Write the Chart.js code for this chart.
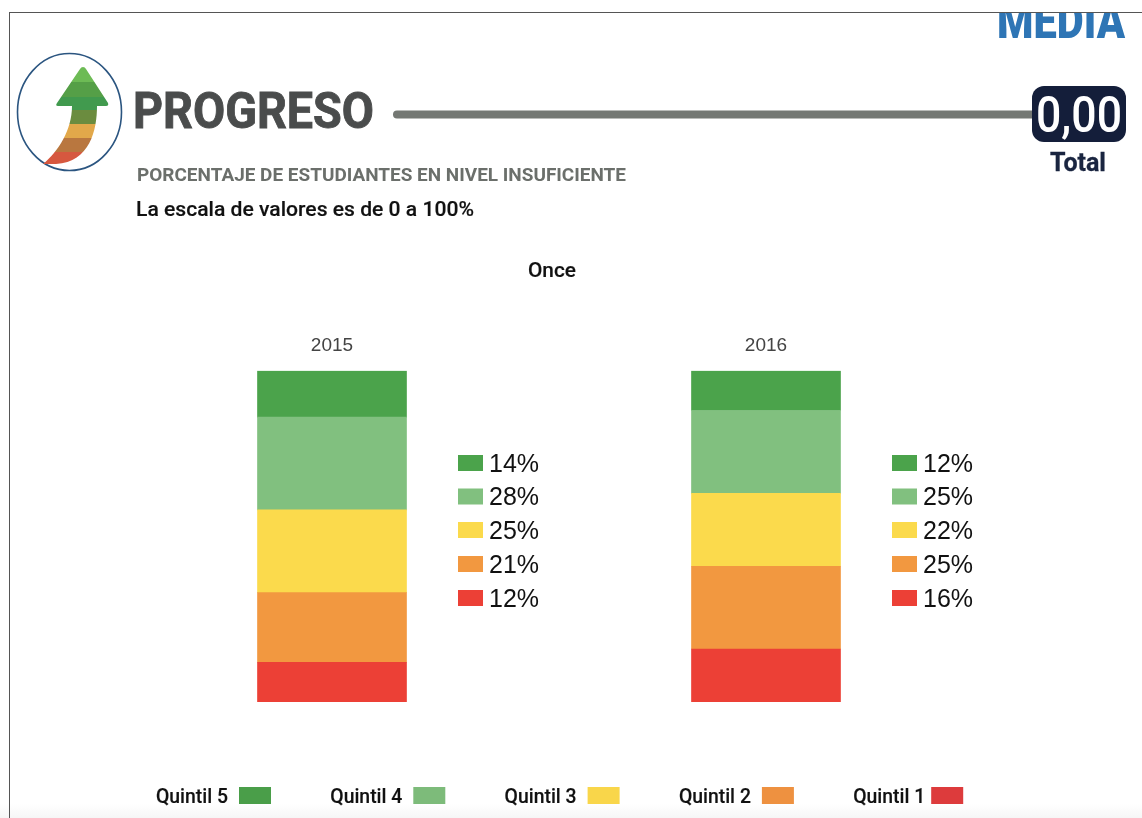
<!DOCTYPE html>
<html lang="es">
<head>
<meta charset="utf-8">
<title>Progreso</title>
<script src="https://cdn.jsdelivr.net/npm/chart.js@4"></script>
<style>
html,body{margin:0;padding:0;background:#fff;width:1142px;height:818px;overflow:hidden}
#wrap{position:relative;width:1142px;height:818px;background:#fff}
#frame-top{position:absolute;left:9px;top:12px;right:0;height:1px;background:#555}
#frame-left{position:absolute;left:9px;top:12px;bottom:0;width:1px;background:#555}
#fade{position:absolute;left:0;right:0;bottom:0;height:14px;background:linear-gradient(#fff,#f6f6f6)}
#head,#chart{position:absolute;left:0;top:0;filter:blur(.45px)}
</style>
</head>
<body>
<div id="wrap">
<div id="fade"></div>
<div id="frame-top"></div>
<div id="frame-left"></div>
<svg id="head" width="1142" height="818" xmlns="http://www.w3.org/2000/svg" font-family="Roboto">
  <defs>
    <clipPath id="below"><rect x="0" y="13" width="1142" height="805"/></clipPath>
    <clipPath id="arrow"><path d="M83,67 Q85,67 86,69 L108,103 Q109,106 106,106 L97,106 C97,130 90,162 56,164 L43,164 C58,152 72,130 72,106 L58,106 Q55,106 57,103 L80,69 Q81,67 83,67 Z"/></clipPath>
  </defs>
  <ellipse cx="69.5" cy="112" rx="52" ry="58.5" fill="none" stroke="#2B5580" stroke-width="1.6"/>
  <g clip-path="url(#arrow)">
    <rect x="40" y="66" width="72" height="16" fill="#6DBB55"/>
    <rect x="40" y="82" width="72" height="15" fill="#559F47"/>
    <rect x="40" y="97" width="72" height="13" fill="#419A4E"/>
    <rect x="40" y="110" width="72" height="14" fill="#6B8C3F"/>
    <rect x="40" y="124" width="72" height="14" fill="#E2A84A"/>
    <rect x="40" y="138" width="72" height="14" fill="#B9773F"/>
    <rect x="40" y="152" width="72" height="13" fill="#D6583F"/>
  </g>
  <text x="133" y="128" font-size="50" font-weight="700" fill="#4A4C4C" stroke="#4A4C4C" stroke-width=".9" textLength="241" lengthAdjust="spacingAndGlyphs">PROGRESO</text>
  <line x1="397" y1="114.500" x2="1036" y2="114.500" stroke="#747873" stroke-width="8" stroke-linecap="round"/>
  <rect x="1032" y="86" width="94" height="56" rx="12" fill="#141E3A"/>
  <text x="1036" y="132" font-size="50" font-weight="500" fill="#fff" textLength="86" lengthAdjust="spacingAndGlyphs">0,00</text>
  <text x="1050" y="171" font-size="26" font-weight="700" fill="#1A2540" stroke="#1A2540" stroke-width=".3" textLength="56" lengthAdjust="spacingAndGlyphs">Total</text>
  <g clip-path="url(#below)">
    <text x="997" y="38" font-size="50" font-weight="900" fill="#2E75B5" textLength="128" lengthAdjust="spacingAndGlyphs">MEDIA</text>
  </g>
  <text x="137" y="181" font-size="19" font-weight="700" fill="#6B6F6B" textLength="489" lengthAdjust="spacingAndGlyphs">PORCENTAJE DE ESTUDIANTES EN NIVEL INSUFICIENTE</text>
  <text x="136" y="216" font-size="20" font-weight="500" fill="#111" stroke="#111" stroke-width=".15" textLength="338" lengthAdjust="spacingAndGlyphs">La escala de valores es de 0 a 100%</text>
  <text id="chart-title" x="528" y="277" font-size="21" font-weight="500" fill="#111" stroke="#111" stroke-width=".15" textLength="48" lengthAdjust="spacingAndGlyphs"></text>
  <g id="legend"></g>
</svg>
<canvas id="chart" width="1142" height="818"></canvas>
</div>
<script>
const years = ["2015", "2016"];
const quintiles = ["Quintil 1", "Quintil 2", "Quintil 3", "Quintil 4", "Quintil 5"];
const quintil1 = [12, 16];
const quintil2 = [21, 25];
const quintil3 = [25, 22];
const quintil4 = [28, 25];
const quintil5 = [14, 12];
const barColors = ["#EC4036", "#F29840", "#FBDA4C", "#81C07F", "#4BA34B"];
const legendColors = ["#DD3B3C", "#EE9140", "#F9D64A", "#7DBB7A", "#4A9E49"];
const title = "Once";

const seriesValues = [quintil1, quintil2, quintil3, quintil4, quintil5];

document.getElementById("chart-title").textContent = title;

/* bottom legend, Quintil 5 first, label left of its swatch */
const NS = "http://www.w3.org/2000/svg";
const legendGroup = document.getElementById("legend");
[4, 3, 2, 1, 0].forEach((q, i) => {
  const x0 = 156 + i * 174.3;
  const t = document.createElementNS(NS, "text");
  t.setAttribute("x", x0);
  t.setAttribute("y", 803);
  t.setAttribute("font-size", "20");
  t.setAttribute("font-weight", "500");
  t.setAttribute("fill", "#111");
  t.setAttribute("stroke", "#111");
  t.setAttribute("stroke-width", ".15");
  t.setAttribute("textLength", "72");
  t.setAttribute("lengthAdjust", "spacingAndGlyphs");
  t.textContent = quintiles[q];
  legendGroup.appendChild(t);
  const r = document.createElementNS(NS, "rect");
  r.setAttribute("x", x0 + 83 - (i === 4 ? 5 : 0));
  r.setAttribute("y", 787);
  r.setAttribute("width", 32);
  r.setAttribute("height", 17);
  r.setAttribute("fill", legendColors[q]);
  legendGroup.appendChild(r);
});

/* per-bar percentage key to the right of each stacked bar */
const sideKey = {
  id: "sideKey",
  afterDatasetsDraw(chart) {
    const { ctx, scales: { x } } = chart;
    const rowY = [463, 496.500, 530, 564, 598];
    ctx.save();
    ctx.font = "25px 'Liberation Sans'";
    ctx.textBaseline = "middle";
    ctx.textAlign = "left";
    years.forEach((_, c) => {
      const cx = x.getPixelForValue(c);
      [4, 3, 2, 1, 0].forEach((q, row) => {
        ctx.fillStyle = barColors[q];
        ctx.fillRect(cx + 126, rowY[row] - 8, 25, 16);
        ctx.fillStyle = "#111";
        ctx.fillText(seriesValues[q][c] + "%", cx + 157, rowY[row] + 2);
      });
    });
    ctx.restore();
  }
};

new Chart(document.getElementById("chart"), {
  type: "bar",
  data: {
    labels: years,
    datasets: quintiles.map((q, i) => ({
      label: q,
      data: seriesValues[i],
      backgroundColor: barColors[i],
      borderWidth: 0,
      barThickness: 149,
      stack: "s"
    }))
  },
  options: {
    responsive: false,
    animation: false,
    layout: { padding: { left: 115, right: 159, top: 328, bottom: 116 } },
    plugins: {
      legend: { display: false },
      tooltip: { enabled: false },
      title: { display: false }
    },
    scales: {
      x: {
        position: "top",
        stacked: true,
        grid: { display: false },
        border: { display: false },
        ticks: { color: "#444", font: { family: "Liberation Sans", size: 19 }, padding: 6, maxRotation: 0 }
      },
      y: {
        stacked: true,
        display: false,
        min: 0,
        max: 100
      }
    }
  },
  plugins: [sideKey]
});
</script>
</body>
</html>
